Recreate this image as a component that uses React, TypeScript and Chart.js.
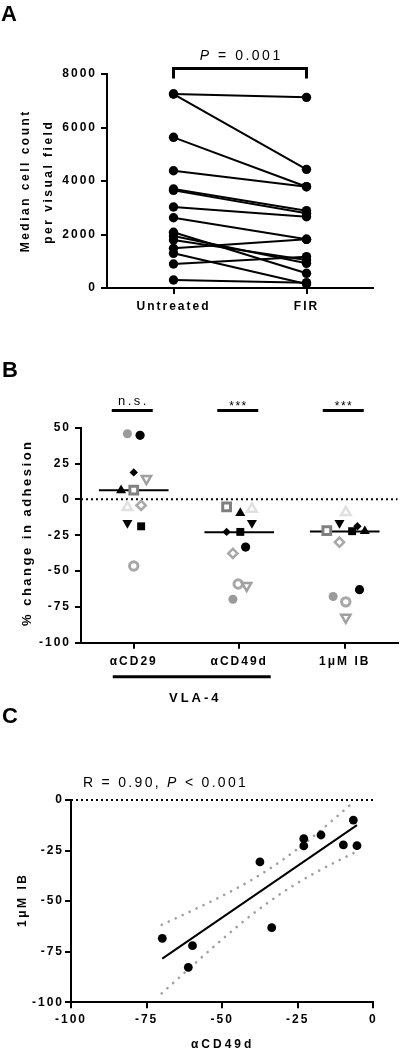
import React, { useEffect, useRef } from 'react';
import { Chart, registerables } from 'chart.js';

Chart.register(...registerables);

const SANS = '"Liberation Sans", Arial, Helvetica, sans-serif';

// ---------------- Panel A: paired counts ----------------
const pairedCategories = ['Untreated', 'FIR'];
const untreatedCounts = [7252, 7252, 5633, 4385, 3700, 3650, 3028, 2628, 2082, 1944, 1794, 1483, 1297, 897, 299];
const firCounts = [7128, 4436, 3787, 3787, 2890, 2792, 2666, 1820, 549, 923, 1047, 1820, 150, 1171, 199];
const countTicks = [0, 2000, 4000, 6000, 8000];
const pairedPValue = '0.001';

// ---------------- Panel B: % change in adhesion ----------------
const treatmentLabels = ['αCD29', 'αCD49d', '1μM IB'];
const cd29Change = [45.8, 44.7, 18.8, 14.4, 6.3, 6.5, -5.5, -4.2, -16.4, -18.8, -46.5];
const cd29Jitter = [-0.06, 0.06, 0, 0.12, -0.12, 0, -0.06, 0.07, -0.06, 0.07, 0];
const cd49dChange = [-69.7, -33.3, -22.7, -60.2, -9.5, -5.3, -6.7, -37.7, -16.4, -22.7, -59];
const cd49dJitter = [-0.06, 0.06, -0.12, 0.07, 0.01, -0.12, 0.12, -0.06, 0.12, 0.01, -0.01];
const ibChange = [-67.8, -63, -18.8, -82.4, -22.2, -21.8, -9, -29.9, -16.4, -22.2, -71.5];
const ibJitter = [-0.11, 0.14, 0.12, 0.01, 0.19, -0.17, 0.01, -0.05, -0.05, 0.07, 0.01];
const groupMedians = [6.3, -23, -22.5];
const significanceLabels = ['n.s.', '***', '***'];
const changeTicks = [-100, -75, -50, -25, 0, 25, 50];
const groupingLabel = 'VLA-4';

// ---------------- Panel C: correlation ----------------
const cd49dX = [-69.8, -61.2, -59.8, -37.5, -33.6, -23, -23, -17.3, -9.9, -6.6, -5.4];
const ibY = [-68.4, -82.7, -72, -30.6, -63.1, -19.1, -22.7, -17.3, -22.2, -9.9, -22.6];
const fitX = [-69.8, -5.4];
const fitY = [-78.4, -12.4];
const upperBandX = [-70, -60, -50, -40, -30, -20, -10, -6.5];
const upperBandY = [-61.7, -54.7, -47.4, -39.3, -29.6, -18.2, -5.5, -0.9];
const lowerBandX = [-70, -60, -50, -40, -30, -20, -10, -5];
const lowerBandY = [-95.6, -82.1, -68.9, -56.5, -45.7, -36.6, -28.8, -25.1];
const corrTicks = [-100, -75, -50, -25, 0];
const correlationR = '0.90';
const correlationP = '0.001';

// ---------------- layout ----------------
const W = 406;
const A_TOP = 0, A_H = 330;
const B_TOP = 330, B_H = 380;
const C_TOP = 690, C_H = 360;

const subjectMarkers = [
  { style: 'circle', rotation: 0, radius: 4.5, fill: '#9b9b9b', stroke: '#9b9b9b', width: 0 },
  { style: 'circle', rotation: 0, radius: 4.6, fill: '#000', stroke: '#000', width: 0 },
  { style: 'rectRot', rotation: 0, radius: 4.2, fill: '#000', stroke: '#000', width: 0 },
  { style: 'triangle', rotation: 180, radius: 5.3, fill: '#fff', stroke: '#a0a0a0', width: 2.5 },
  { style: 'triangle', rotation: 0, radius: 5.8, fill: '#000', stroke: '#000', width: 0 },
  { style: 'rect', rotation: 0, radius: 5.5, fill: '#fff', stroke: '#808080', width: 3 },
  { style: 'triangle', rotation: 0, radius: 5.5, fill: '#fff', stroke: '#e0e0e0', width: 2.5 },
  { style: 'rectRot', rotation: 0, radius: 4.6, fill: '#fff', stroke: '#a8a8a8', width: 2.5 },
  { style: 'triangle', rotation: 180, radius: 5.8, fill: '#000', stroke: '#000', width: 0 },
  { style: 'rect', rotation: 0, radius: 5.6, fill: '#000', stroke: '#000', width: 0 },
  { style: 'circle', rotation: 0, radius: 4.2, fill: '#fff', stroke: '#a8a8a8', width: 3 },
];

type Seg = { t: string; italic?: boolean };

function drawRich(ctx: CanvasRenderingContext2D, segs: Seg[], x: number, y: number, size: number, spacing: number, align: 'left' | 'center', weight = 'normal') {
  ctx.save();
  (ctx as any).letterSpacing = spacing + 'px';
  ctx.textBaseline = 'alphabetic';
  ctx.textAlign = 'left';
  ctx.fillStyle = '#000';
  const fonts = segs.map((s) => `${s.italic ? 'italic ' : ''}${weight} ${size}px ${SANS}`);
  let total = 0;
  const widths = segs.map((s, i) => {
    ctx.font = fonts[i];
    const w = ctx.measureText(s.t).width;
    total += w;
    return w;
  });
  let cx = align === 'center' ? x - (total - spacing) / 2 : x;
  segs.forEach((s, i) => {
    ctx.font = fonts[i];
    ctx.fillText(s.t, cx, y);
    cx += widths[i];
  });
  ctx.restore();
}

function drawRotated(ctx: CanvasRenderingContext2D, s: string, x: number, y: number, font: string, spacing: number) {
  ctx.save();
  (ctx as any).letterSpacing = spacing + 'px';
  ctx.font = font;
  ctx.fillStyle = '#000';
  ctx.translate(x, y);
  ctx.rotate(-Math.PI / 2);
  ctx.textAlign = 'center';
  ctx.textBaseline = 'middle';
  ctx.fillText(s, spacing / 2, 0);
  ctx.restore();
}

function hBar(ctx: CanvasRenderingContext2D, x0: number, x1: number, y: number, w: number) {
  ctx.save();
  ctx.strokeStyle = '#000';
  ctx.lineWidth = w;
  ctx.beginPath();
  ctx.moveTo(x0, y);
  ctx.lineTo(x1, y);
  ctx.stroke();
  ctx.restore();
}

const spacingPlugin = {
  id: 'spacing',
  beforeDraw(chart: any) {
    chart.ctx.letterSpacing = '2px';
  },
};

function axisOpts(tickLength: number, padding: number) {
  return {
    grid: { display: true, drawOnChartArea: false, drawTicks: true, tickLength, color: '#000', lineWidth: 2 },
    border: { display: true, color: '#000', width: 2 },
    ticks: {
      color: '#000',
      font: { family: SANS, size: 12, weight: 'bold' as const },
      padding,
      autoSkip: false,
      maxRotation: 0,
      minRotation: 0,
    },
  };
}

const plainNumber = (v: any) => String(v);

const baseOptions = {
  responsive: false,
  animation: false as const,
  devicePixelRatio: 1,
  events: [] as any[],
  plugins: { legend: { display: false }, tooltip: { enabled: false } },
};

function configA(): any {
  const left = 107, top = 74, right = 373, bottom = 288;
  const yAxis = axisOpts(6, 4);
  return {
    type: 'line',
    data: {
      labels: pairedCategories,
      datasets: untreatedCounts.map((u, i) => ({
        data: [u, firCounts[i]],
        borderColor: '#000',
        backgroundColor: '#000',
        borderWidth: 2,
        pointRadius: 4.7,
        pointHoverRadius: 4.7,
        pointBackgroundColor: '#000',
        pointBorderWidth: 0,
        tension: 0,
        clip: false,
      })),
    },
    options: {
      ...baseOptions,
      layout: { padding: { left: 0, top: top - A_TOP, right: W - right, bottom: 0 } },
      scales: {
        x: {
          type: 'category',
          offset: true,
          ...axisOpts(6, 5),
          afterFit: (s: any) => { s.height = A_H - (bottom - A_TOP); },
        },
        y: {
          type: 'linear',
          min: 0,
          max: 8000,
          ...yAxis,
          ticks: { ...yAxis.ticks, callback: plainNumber },
          afterBuildTicks: (s: any) => { s.ticks = countTicks.map((v) => ({ value: v })); },
          afterFit: (s: any) => { s.width = left; },
        },
      },
    },
    plugins: [
      spacingPlugin,
      {
        id: 'panelA',
        afterDraw(chart: any) {
          const ctx = chart.ctx as CanvasRenderingContext2D;
          const xs = chart.scales.x;
          const off = A_TOP;
          drawRich(ctx, [{ t: 'A' }], 1, 21 - off, 22, 0, 'left', 'bold');
          drawRotated(ctx, 'Median cell count', 26, 182 - off, `bold 12px ${SANS}`, 2.5);
          drawRotated(ctx, 'per visual field', 48.5, 183 - off, `bold 12px ${SANS}`, 2.5);
          const x0 = xs.getPixelForValue(0);
          const x1 = xs.getPixelForValue(1);
          ctx.save();
          ctx.strokeStyle = '#000';
          ctx.lineWidth = 3;
          ctx.lineJoin = 'miter';
          ctx.beginPath();
          ctx.moveTo(x0, 78.5 - off);
          ctx.lineTo(x0, 68.5 - off);
          ctx.lineTo(x1, 68.5 - off);
          ctx.lineTo(x1, 78.5 - off);
          ctx.stroke();
          ctx.restore();
          drawRich(ctx, [{ t: 'P', italic: true }, { t: ' = ' + pairedPValue }], (x0 + x1) / 2, 60 - off, 14, 2.5, 'center');
        },
      },
    ],
  };
}

function configB(): any {
  const left = 81, top = 427.7, right = 403.5, bottom = 642.7;
  const subjectSets = subjectMarkers.map((m, i) => ({
    type: 'scatter',
    data: [
      { x: 0 + cd29Jitter[i], y: cd29Change[i] },
      { x: 1 + cd49dJitter[i], y: cd49dChange[i] },
      { x: 2 + ibJitter[i], y: ibChange[i] },
    ],
    pointStyle: m.style,
    pointRotation: m.rotation,
    pointRadius: m.radius,
    pointHoverRadius: m.radius,
    pointBackgroundColor: m.fill,
    pointBorderColor: m.stroke,
    pointBorderWidth: m.width,
    showLine: false,
    clip: false,
    order: 0,
  }));
  const medianSets = groupMedians.map((v, i) => ({
    type: 'line',
    data: [{ x: i - 0.33, y: v }, { x: i + 0.33, y: v }],
    borderColor: '#000',
    borderWidth: 2,
    pointRadius: 0,
    clip: false,
    order: 1,
  }));
  const zeroSet = {
    type: 'line',
    data: [{ x: -0.5, y: 0 }, { x: 2.5, y: 0 }],
    borderColor: '#000',
    borderWidth: 2,
    borderDash: [2, 3],
    pointRadius: 0,
    clip: false,
    order: 2,
  };
  const xAxis = axisOpts(6, 6);
  return {
    type: 'scatter',
    data: { datasets: [...subjectSets, ...medianSets, zeroSet] },
    options: {
      ...baseOptions,
      layout: { padding: { left: 0, top: top - B_TOP, right: W - right, bottom: 0 } },
      scales: {
        x: {
          type: 'linear',
          min: -0.5,
          max: 2.5,
          ...xAxis,
          ticks: { ...xAxis.ticks, callback: (_v: any, i: number) => treatmentLabels[i] },
          afterBuildTicks: (s: any) => { s.ticks = treatmentLabels.map((_, i) => ({ value: i })); },
          afterFit: (s: any) => { s.height = B_H - (bottom - B_TOP); },
        },
        y: {
          type: 'linear',
          min: -100,
          max: 50,
          ...axisOpts(6, 4),
          afterBuildTicks: (s: any) => { s.ticks = changeTicks.map((v) => ({ value: v })); },
          afterFit: (s: any) => { s.width = left; },
        },
      },
    },
    plugins: [
      spacingPlugin,
      {
        id: 'panelB',
        afterDraw(chart: any) {
          const ctx = chart.ctx as CanvasRenderingContext2D;
          const xs = chart.scales.x;
          const off = B_TOP;
          drawRich(ctx, [{ t: 'B' }], 2, 377 - off, 22, 0, 'left', 'bold');
          drawRotated(ctx, '% change in adhesion', 27, 534 - off, `bold 13px ${SANS}`, 2.5);
          significanceLabels.forEach((s, i) => {
            const cx = xs.getPixelForValue(i) - 1.5;
            hBar(ctx, cx - 20.5, cx + 20.5, 410.5 - off, 3);
            if (s === 'n.s.') drawRich(ctx, [{ t: s }], cx, 405 - off, 13, 2.5, 'center');
            else drawRich(ctx, [{ t: s }], cx, 410 - off, 12, 1.5, 'center');
          });
          const v0 = xs.getPixelForValue(0) - 21;
          const v1 = xs.getPixelForValue(1) + 31.5;
          hBar(ctx, v0, v1, 676.7 - off, 3);
          drawRich(ctx, [{ t: groupingLabel }], (v0 + v1) / 2 + 2, 702 - off, 13, 3, 'center', 'bold');
        },
      },
    ],
  };
}

function configC(): any {
  const left = 71, top = 800, right = 373.3, bottom = 1002.3;
  return {
    type: 'scatter',
    data: {
      datasets: [
        {
          data: cd49dX.map((x, i) => ({ x, y: ibY[i] })),
          pointRadius: 4.4,
          pointHoverRadius: 4.4,
          pointBackgroundColor: '#000',
          pointBorderWidth: 0,
          clip: false,
          order: 0,
        },
        {
          type: 'line',
          data: fitX.map((x, i) => ({ x, y: fitY[i] })),
          borderColor: '#000',
          borderWidth: 2,
          pointRadius: 0,
          order: 1,
        },
        {
          type: 'line',
          data: upperBandX.map((x, i) => ({ x, y: upperBandY[i] })),
          borderColor: '#a0a0a0',
          borderWidth: 2.6,
          borderDash: [0.1, 7.6],
          borderCapStyle: 'round',
          cubicInterpolationMode: 'monotone',
          pointRadius: 0,
          clip: false,
          order: 2,
        },
        {
          type: 'line',
          data: lowerBandX.map((x, i) => ({ x, y: lowerBandY[i] })),
          borderColor: '#a0a0a0',
          borderWidth: 2.6,
          borderDash: [0.1, 7.6],
          borderCapStyle: 'round',
          cubicInterpolationMode: 'monotone',
          pointRadius: 0,
          clip: false,
          order: 2,
        },
        {
          type: 'line',
          data: [{ x: -100, y: 0 }, { x: 0.5, y: 0 }],
          borderColor: '#000',
          borderWidth: 2,
          borderDash: [2, 3],
          pointRadius: 0,
          clip: false,
          order: 3,
        },
      ],
    },
    options: {
      ...baseOptions,
      layout: { padding: { left: 0, top: top - C_TOP, right: W - right, bottom: 0 } },
      scales: {
        x: {
          type: 'linear',
          min: -100,
          max: 0,
          ...axisOpts(6, 4),
          afterBuildTicks: (s: any) => { s.ticks = corrTicks.map((v) => ({ value: v })); },
          afterFit: (s: any) => { s.height = C_H - (bottom - C_TOP); },
        },
        y: {
          type: 'linear',
          min: -100,
          max: 0,
          ...axisOpts(6, 1),
          afterBuildTicks: (s: any) => { s.ticks = corrTicks.map((v) => ({ value: v })); },
          afterFit: (s: any) => { s.width = left; },
        },
      },
    },
    plugins: [
      spacingPlugin,
      {
        id: 'panelC',
        afterDraw(chart: any) {
          const ctx = chart.ctx as CanvasRenderingContext2D;
          const xs = chart.scales.x;
          const off = C_TOP;
          drawRich(ctx, [{ t: 'C' }], 2, 723 - off, 22, 0, 'left', 'bold');
          drawRich(
            ctx,
            [{ t: 'R = ' + correlationR + ', ' }, { t: 'P', italic: true }, { t: ' < ' + correlationP }],
            83, 786.7 - off, 14, 2.3, 'left'
          );
          drawRotated(ctx, '1μM IB', 23, 901 - off, `bold 12px ${SANS}`, 2.5);
          drawRich(ctx, [{ t: 'αCD49d' }], (xs.left + xs.right) / 2 - 1, 1048 - off, 12, 3, 'center', 'bold');
        },
      },
    ],
  };
}

export default function App() {
  const aRef = useRef<HTMLCanvasElement>(null);
  const bRef = useRef<HTMLCanvasElement>(null);
  const cRef = useRef<HTMLCanvasElement>(null);

  useEffect(() => {
    const charts = [
      new Chart(aRef.current!, configA()),
      new Chart(bRef.current!, configB()),
      new Chart(cRef.current!, configC()),
    ];
    return () => charts.forEach((c) => c.destroy());
  }, []);

  const canvasStyle = (top: number, h: number): React.CSSProperties => ({
    position: 'absolute',
    left: 0,
    top,
    width: W,
    height: h,
    display: 'block',
  });

  return (
    <div style={{ position: 'absolute', left: 0, top: 0, width: W, height: 1050, background: '#fff', overflow: 'hidden' }}>
      <canvas ref={aRef} width={W} height={A_H} style={canvasStyle(A_TOP, A_H)} />
      <canvas ref={bRef} width={W} height={B_H} style={canvasStyle(B_TOP, B_H)} />
      <canvas ref={cRef} width={W} height={C_H} style={canvasStyle(C_TOP, C_H)} />
    </div>
  );
}
